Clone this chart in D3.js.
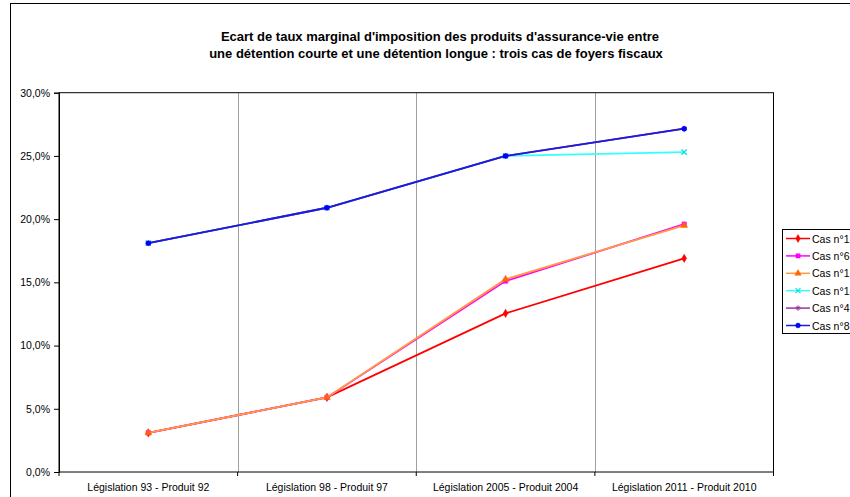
<!DOCTYPE html>
<html>
<head>
<meta charset="utf-8">
<script src="https://cdn.jsdelivr.net/npm/d3@7"></script>
<style>
  body { margin: 0; background: #fff; }
  svg { display: block; font-family: "Liberation Sans", Arial, sans-serif; }
</style>
</head>
<body>
<svg id="chart" width="850" height="497"></svg>
<script>
// categories and series
const categories = ["Législation 93 - Produit 92", "Législation 98 - Produit 97",
                    "Législation 2005 - Produit 2004", "Législation 2011 - Produit 2010"];
const seriesNames = ["Cas n°1", "Cas n°6", "Cas n°1", "Cas n°1", "Cas n°4", "Cas n°8"];
const cas1a = [3.1, 5.9, 12.55, 16.9];
const cas6 = [3.1, 5.9, 15.1, 19.6];
const cas1b = [3.1, 5.9, 15.25, 19.5];
const cas1c = [18.1, 20.9, 25.0, 25.3];
const cas4 = [18.1, 20.9, 25.0, 27.15];
const cas8 = [18.1, 20.9, 25.0, 27.15];
const yTicks = [0, 5, 10, 15, 20, 25, 30];

const series = [
  {name: seriesNames[0], values: cas1a, color: "#ff0000", mark: "#ff0000", symbol: d3.symbolDiamond},
  {name: seriesNames[1], values: cas6, color: "#ff00ff", mark: "#ff00ff", symbol: d3.symbolSquare},
  {name: seriesNames[2], values: cas1b, color: "#ff9a40", mark: "#ff6600", symbol: d3.symbolTriangle},
  {name: seriesNames[3], values: cas1c, color: "#33ffff", mark: "#00e0e0", symbol: d3.symbolX},
  {name: seriesNames[4], values: cas4, color: "#993399", mark: "#993399", symbol: d3.symbolAsterisk},
  {name: seriesNames[5], values: cas8, color: "#1a1ae0", mark: "#0000ff", symbol: d3.symbolCircle}
];

const svg = d3.select("#chart");
const fmt = v => d3.format(".1f")(v).replace(".", ",") + "%";
const isStroke = s => s === d3.symbolX || s === d3.symbolAsterisk;

// chart border
svg.append("rect")
   .attr("x", 10.5).attr("y", 3.5)
   .attr("width", 900).attr("height", 600)
   .attr("fill", "none").attr("stroke", "#000").attr("stroke-width", 1);

// title
const title = svg.append("text")
   .attr("text-anchor", "middle")
   .attr("font-size", 13)
   .attr("font-weight", "bold");
title.append("tspan").attr("x", 440).attr("y", 41)
     .text("Ecart de taux marginal d'imposition des produits d'assurance-vie entre");
title.append("tspan").attr("x", 436).attr("y", 58)
     .text("une détention courte et une détention longue : trois cas de foyers fiscaux");

const plotLeft = 59, plotRight = 773.5, plotTop = 92.7, plotBottom = 472;

const x = d3.scaleBand(categories, [plotLeft, plotRight]);
const y = d3.scaleLinear([0, 30], [plotBottom, plotTop]);

// vertical gridlines between categories
svg.append("g")
   .selectAll("line")
   .data(categories.slice(1))
   .join("line")
   .attr("x1", d => Math.round(x(d)) + 0.5)
   .attr("x2", d => Math.round(x(d)) + 0.5)
   .attr("y1", plotTop).attr("y2", plotBottom)
   .attr("stroke", "#a0a0a0").attr("stroke-width", 1);

// plot frame
svg.append("rect")
   .attr("x", plotLeft).attr("y", plotTop)
   .attr("width", plotRight - plotLeft).attr("height", plotBottom - plotTop)
   .attr("fill", "none").attr("stroke", "#000").attr("stroke-width", 1);

// y axis
const yAxis = svg.append("g")
   .attr("transform", `translate(${plotLeft},0)`)
   .call(d3.axisLeft(y).tickValues(yTicks).tickFormat(fmt).tickSize(5).tickPadding(4));
yAxis.select(".domain").attr("stroke", "#000");
yAxis.selectAll("text").attr("font-size", 10.5).attr("font-family", "Liberation Sans, Arial, sans-serif");

// x axis
const xAxis = svg.append("g")
   .attr("transform", `translate(0,${plotBottom})`)
   .call(d3.axisBottom(x).tickSize(0).tickPadding(12));
xAxis.select(".domain").remove();
xAxis.selectAll("text").attr("font-size", 10.5).attr("font-family", "Liberation Sans, Arial, sans-serif");
svg.append("g")
   .selectAll("line")
   .data(categories.map(c => x(c)).concat([plotRight]))
   .join("line")
   .attr("x1", d => d).attr("x2", d => d)
   .attr("y1", plotBottom).attr("y2", plotBottom + 4)
   .attr("stroke", "#000");

// lines and markers
const line = d3.line()
   .x((d, i) => x(categories[i]) + x.bandwidth() / 2)
   .y(d => y(d));

series.forEach(s => {
  svg.append("path")
     .attr("d", line(s.values))
     .attr("fill", "none")
     .attr("stroke", s.color)
     .attr("stroke-width", 1.8);
  svg.append("g")
     .selectAll("path")
     .data(s.values)
     .join("path")
     .attr("transform", (d, i) => `translate(${x(categories[i]) + x.bandwidth() / 2},${y(d)})`)
     .attr("d", d3.symbol(s.symbol, 20))
     .attr("fill", isStroke(s.symbol) ? "none" : s.mark)
     .attr("stroke", s.mark)
     .attr("stroke-width", isStroke(s.symbol) ? 1.2 : 0.5);
});

// legend
const legend = svg.append("g");
legend.append("rect")
   .attr("x", 782.5).attr("y", 229.5)
   .attr("width", 80).attr("height", 104)
   .attr("fill", "#fff").attr("stroke", "#000");
const item = legend.selectAll("g")
   .data(series)
   .join("g")
   .attr("transform", (d, i) => `translate(0,${238.5 + i * 17.4})`);
item.append("line")
   .attr("x1", 786).attr("x2", 810)
   .attr("stroke", d => d.color).attr("stroke-width", 1.5);
item.append("path")
   .attr("transform", "translate(798,0)")
   .attr("d", d => d3.symbol(d.symbol, 18)())
   .attr("fill", d => isStroke(d.symbol) ? "none" : d.mark)
   .attr("stroke", d => d.mark)
   .attr("stroke-width", d => isStroke(d.symbol) ? 1.1 : 0.5);
item.append("text")
   .attr("x", 812).attr("y", 4)
   .attr("font-size", 10.5)
   .text(d => d.name);
</script>
</body>
</html>
